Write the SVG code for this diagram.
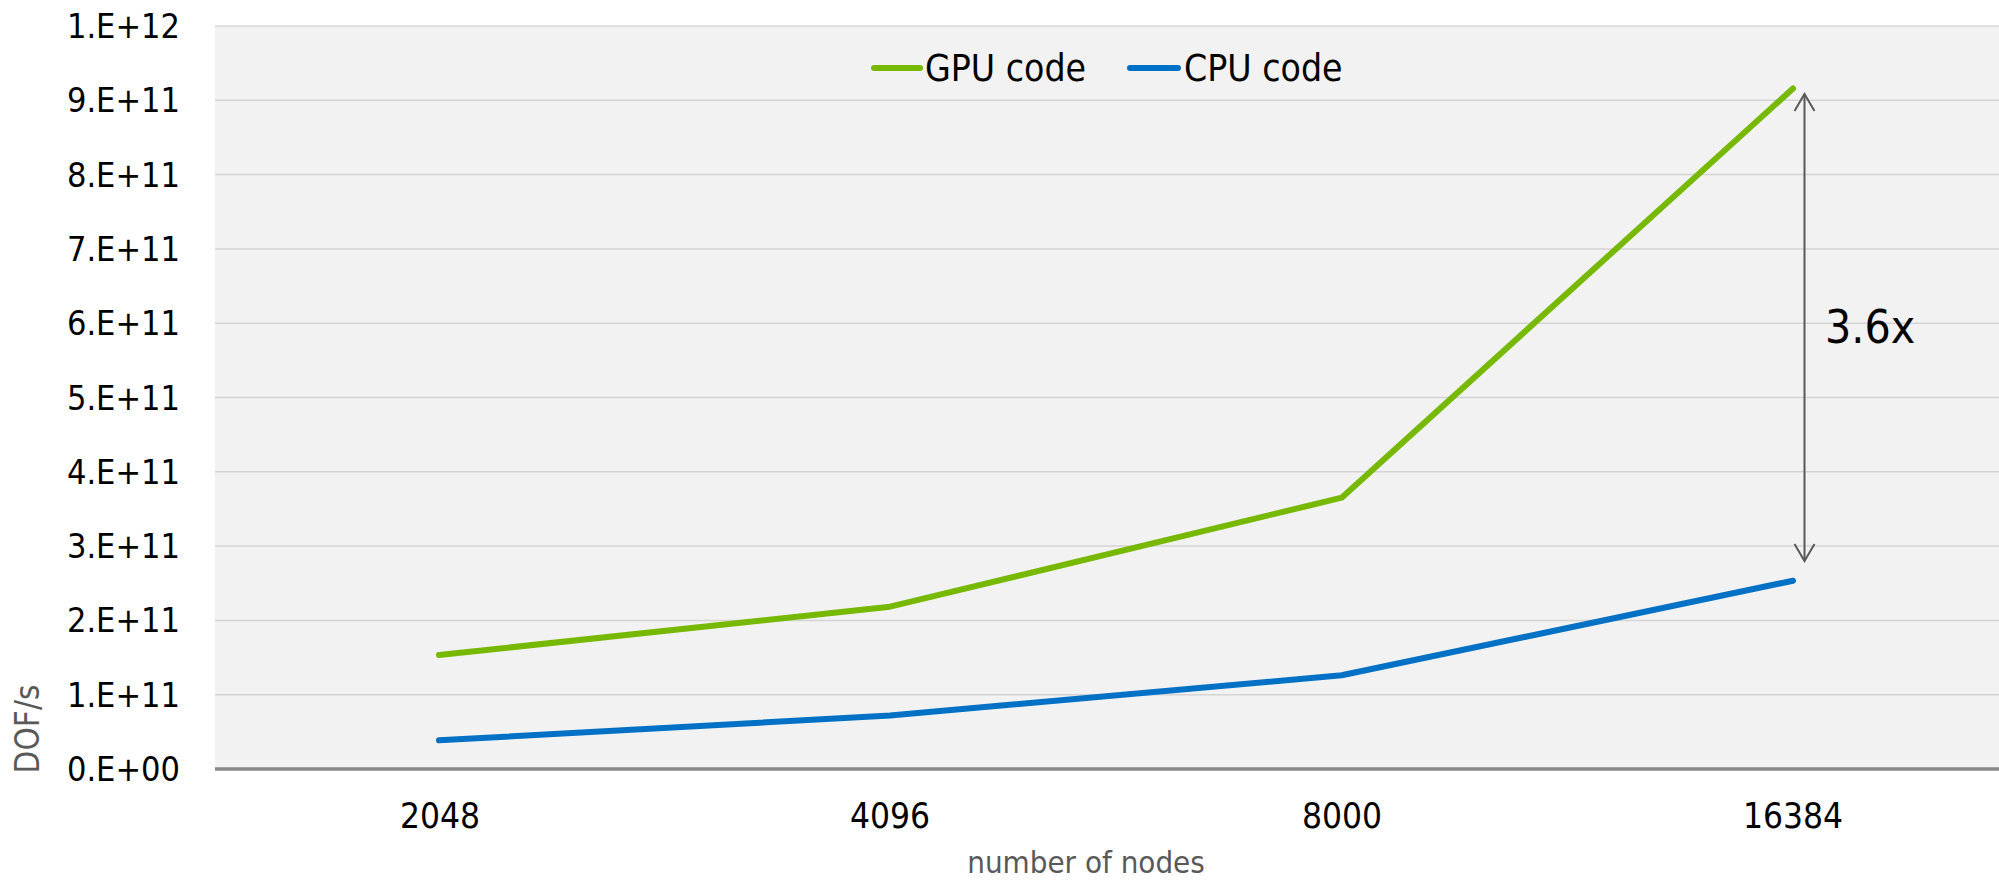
<svg xmlns="http://www.w3.org/2000/svg" width="1999" height="880" viewBox="0 0 1999 880">
<style>
text{font-family:'DejaVu Sans Condensed','DejaVu Sans',sans-serif;font-stretch:condensed;fill:#000}
.yl{font-size:34px;text-anchor:end}
.xl{font-size:35px;text-anchor:middle}
.lg{font-size:37px}
.ax{font-size:31px;fill:#595959}
.grid{stroke:#d4d4d4;stroke-width:1.5}
.ser{fill:none;stroke-width:6;stroke-linecap:round;stroke-linejoin:round}
</style>
<defs>
<marker id="ah" viewBox="0 0 24 24" refX="22" refY="12" markerWidth="24" markerHeight="24" markerUnits="userSpaceOnUse" orient="auto-start-reverse">
<path d="M5,2 L22,12 L5,22" fill="none" stroke="#595959" stroke-width="2"/>
</marker>
</defs>
<rect width="1999" height="880" fill="#fff"/>
<g id="plot">
<rect x="215" y="26" width="1784" height="743" fill="#f2f2f2"/>
<g class="grid">
<line x1="215" y1="26" x2="1999" y2="26"/>
<line x1="215" y1="100.3" x2="1999" y2="100.3"/>
<line x1="215" y1="174.6" x2="1999" y2="174.6"/>
<line x1="215" y1="248.9" x2="1999" y2="248.9"/>
<line x1="215" y1="323.2" x2="1999" y2="323.2"/>
<line x1="215" y1="397.5" x2="1999" y2="397.5"/>
<line x1="215" y1="471.8" x2="1999" y2="471.8"/>
<line x1="215" y1="546.1" x2="1999" y2="546.1"/>
<line x1="215" y1="620.4" x2="1999" y2="620.4"/>
<line x1="215" y1="694.7" x2="1999" y2="694.7"/>
</g>
<line x1="215" y1="769" x2="1999" y2="769" stroke="#898989" stroke-width="3.5"/>
</g>
<g id="y-labels">
<text class="yl" x="180" y="38">1.E+12</text>
<text class="yl" x="180" y="112.3">9.E+11</text>
<text class="yl" x="180" y="186.6">8.E+11</text>
<text class="yl" x="180" y="260.9">7.E+11</text>
<text class="yl" x="180" y="335.2">6.E+11</text>
<text class="yl" x="180" y="409.5">5.E+11</text>
<text class="yl" x="180" y="483.8">4.E+11</text>
<text class="yl" x="180" y="558.1">3.E+11</text>
<text class="yl" x="180" y="632.4">2.E+11</text>
<text class="yl" x="180" y="706.7">1.E+11</text>
<text class="yl" x="180" y="781">0.E+00</text>
</g>
<g id="x-labels">
<text class="xl" x="440" y="828">2048</text>
<text class="xl" x="890" y="828">4096</text>
<text class="xl" x="1342" y="828">8000</text>
<text class="xl" x="1793" y="828">16384</text>
</g>
<g id="axis-titles">
<text class="ax" x="1086" y="873" text-anchor="middle">number of nodes</text>
<text class="ax" font-size="33" transform="translate(39,729) rotate(-90)" text-anchor="middle" style="font-size:33px">DOF/s</text>
</g>
<g id="series">
<polyline id="gpu" class="ser" stroke="#76b900" points="439,655 890,606.7 1341.7,497.7 1793,88.5"/>
<polyline id="cpu" class="ser" stroke="#0071c5" points="439,740.3 890,715.5 1341.7,675.3 1793,580.7"/>
</g>
<g id="legend">
<line x1="874" y1="68" x2="920" y2="68" stroke="#76b900" stroke-width="6" stroke-linecap="round"/>
<text class="lg" x="925" y="81">GPU code</text>
<line x1="1130" y1="68" x2="1178" y2="68" stroke="#0071c5" stroke-width="6" stroke-linecap="round"/>
<text class="lg" x="1184" y="81">CPU code</text>
</g>
<g id="annotation">
<line x1="1804.5" y1="94" x2="1804.5" y2="561" stroke="#595959" stroke-width="2" marker-start="url(#ah)" marker-end="url(#ah)"/>
<text x="1825" y="343" font-size="46">3.6x</text>
</g>
</svg>
